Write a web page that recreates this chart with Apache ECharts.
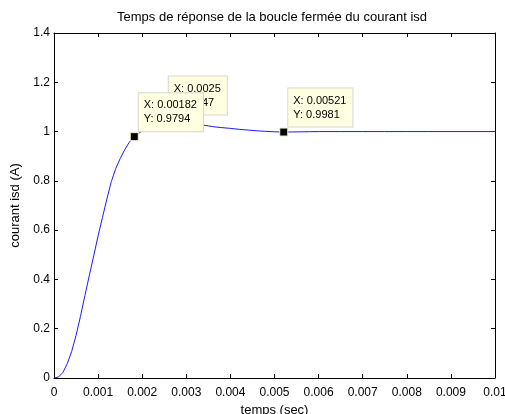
<!DOCTYPE html>
<html>
<head>
<meta charset="utf-8">
<script src="https://cdn.jsdelivr.net/npm/echarts@6/dist/echarts.min.js"></script>
<style>
html,body{margin:0;padding:0;background:#fff;}
#c{width:505px;height:414px;}
</style>
</head>
<body>
<div id="c"></div>
<script>
// ---- data ----
var timeSec = [0, 0.0001, 0.0002, 0.0003, 0.0004, 0.0005, 0.0006, 0.0007, 0.0008, 0.0009,
  0.001, 0.0011, 0.0012, 0.0013, 0.0014, 0.0015, 0.0016, 0.0017, 0.00182, 0.0019,
  0.002, 0.0021, 0.0022, 0.0023, 0.0024, 0.0025, 0.0026, 0.0027, 0.0028, 0.0029,
  0.003, 0.0031, 0.0032, 0.00335, 0.0035, 0.0036, 0.0038, 0.004, 0.0042, 0.0044,
  0.0046, 0.0048, 0.005, 0.00521, 0.0054, 0.0056, 0.0058, 0.006, 0.0065, 0.007,
  0.0075, 0.008, 0.0085, 0.009, 0.0095, 0.01];
var courantIsd = [0, 0.004, 0.022, 0.058, 0.107, 0.173, 0.25, 0.334, 0.415, 0.495,
  0.577, 0.652, 0.727, 0.797, 0.85, 0.89, 0.925, 0.955, 0.9794, 0.99,
  1.003, 1.016, 1.027, 1.036, 1.043, 1.047, 1.047, 1.046, 1.044, 1.041,
  1.038, 1.035, 1.032, 1.027, 1.023, 1.020, 1.016, 1.013, 1.009, 1.006,
  1.003, 1.001, 0.999, 0.9981, 0.9985, 0.999, 0.9995, 1.0, 1.0, 1.0,
  1.0, 1.0, 1.0, 1.0, 1.0, 1.0];
var xTickLabels = ['0', '0.001', '0.002', '0.003', '0.004', '0.005', '0.006', '0.007', '0.008', '0.009', '0.01'];
var yTickLabels = ['0', '0.2', '0.4', '0.6', '0.8', '1', '1.2', '1.4'];
var tipX = [0.0025, 0.00182, 0.00521];
var tipY = [1.047, 0.9794, 0.9981];
var tipYText = ['1.047', '0.9794', '0.9981'];

var FONT = 'Liberation Sans, Arial, sans-serif';
var chart = echarts.init(document.getElementById('c'), null, {renderer: 'canvas'});

var lineData = timeSec.map(function (t, i) { return [t, courantIsd[i]]; });
var tips = tipX.map(function (x, i) {
  return {
    coord: [x, tipY[i]],
    label: { formatter: 'X: ' + x + '\nY: ' + tipYText[i] }
  };
});

var axisCommon = {
  axisLine: { show: true, onZero: false, lineStyle: { color: '#000', width: 1 } },
  axisTick: { show: true, inside: true, length: 4, lineStyle: { color: '#000' } },
  splitLine: { show: false }
};

chart.setOption({
  animation: false,
  backgroundColor: '#fff',
  title: {
    text: 'Temps de réponse de la boucle fermée du courant isd',
    left: 117, top: 11, padding: 0,
    textStyle: { fontFamily: FONT, fontSize: 13, fontWeight: 'normal', color: '#000' }
  },
  grid: { left: 54, right: 10, top: 33, bottom: 36, containLabel: false, outerBoundsMode: 'none' },
  xAxis: [
    Object.assign({
      type: 'value', min: 0, max: 0.01, interval: 0.001, position: 'bottom',
      name: 'temps (sec)', nameLocation: 'middle', nameGap: 22,
      nameTextStyle: { fontFamily: FONT, fontSize: 13, color: '#000' },
      axisLabel: { fontFamily: FONT, fontSize: 12, color: '#000', margin: 9,
        formatter: function (v, i) { return xTickLabels[i]; } }
    }, axisCommon),
    Object.assign({
      type: 'value', min: 0, max: 0.01, interval: 0.001, position: 'top',
      axisLabel: { show: false }
    }, axisCommon)
  ],
  yAxis: [
    Object.assign({
      type: 'value', min: 0, max: 1.4, interval: 0.2, position: 'left',
      name: 'courant isd (A)', nameLocation: 'middle', nameGap: 27,
      nameTextStyle: { fontFamily: FONT, fontSize: 13, color: '#000' },
      axisLabel: { fontFamily: FONT, fontSize: 12, color: '#000', margin: 4,
        formatter: function (v, i) { return yTickLabels[i]; } }
    }, axisCommon),
    Object.assign({
      type: 'value', min: 0, max: 1.4, interval: 0.2, position: 'right',
      axisLabel: { show: false }
    }, axisCommon)
  ],
  series: [{
    type: 'line',
    data: lineData,
    showSymbol: false,
    smooth: false,
    lineStyle: { color: '#1a1aff', width: 1 },
    itemStyle: { color: '#1a1aff' },
    markPoint: {
      symbol: 'rect',
      symbolSize: 8,
      itemStyle: { color: '#000', borderColor: '#f4f4c4', borderWidth: 1 },
      label: {
        show: true,
        position: [9, -39],
        align: 'left', verticalAlign: 'top',
        fontFamily: FONT, fontSize: 11, lineHeight: 14, color: '#000',
        backgroundColor: '#ffffe1', borderColor: '#d6d6d6', borderWidth: 1,
        padding: [5, 6, 5, 5]
      },
      data: tips
    }
  }]
});
</script>
</body>
</html>
